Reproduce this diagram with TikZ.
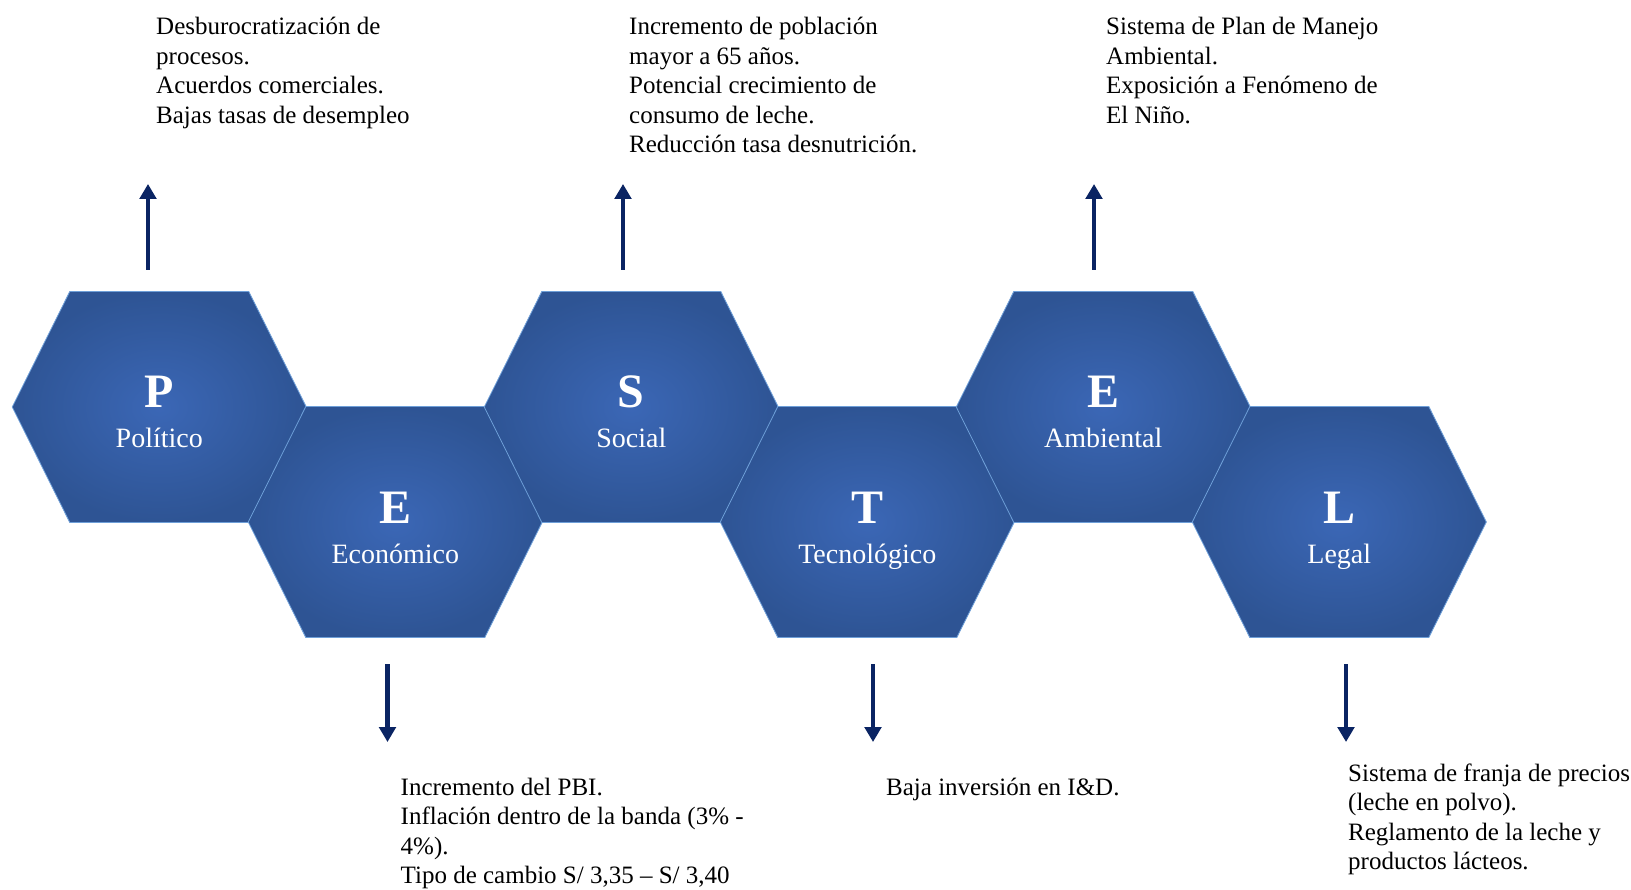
\documentclass[tikz,border=0pt]{standalone}
\usepackage{fontspec}
\setmainfont{Liberation Serif}
\usetikzlibrary{arrows.meta}
\definecolor{hexin}{HTML}{3B67B6}
\definecolor{hexout}{HTML}{2E5494}
\definecolor{hexline}{HTML}{6E9FD8}
\definecolor{navy}{HTML}{0A2463}
\newcommand\hexshape[2]{%
  \path[hexfill] (#1-147,#2) -- (#1-89.5,#2-115.5) -- (#1+89.5,#2-115.5) -- (#1+147,#2)
    -- (#1+89.5,#2+115.5) -- (#1-89.5,#2+115.5) -- cycle;}
\newcommand\txtblock[1]{\parbox[t]{400pt}{\raggedright\fontsize{25}{29.5}\selectfont #1}}
\tikzset{
  hexfill/.style={inner color=hexin, outer color=hexout, draw=hexline, line width=0.8pt},
  bigletter/.style={anchor=base, inner sep=0, text=white, font=\fontsize{48}{48}\selectfont\bfseries},
  hexlabel/.style={anchor=base, inner sep=0, text=white, font=\fontsize{28}{28}\selectfont},
  infotext/.style={anchor=base west, inner sep=0, text=black},
  factorarrow/.style={draw=navy, line width=4.6pt, -{Triangle[width=16.5pt,length=15pt]}}
}
\begin{document}
\begin{tikzpicture}[x=1pt,y=-1pt]
\useasboundingbox (0,0) rectangle (1631,890);
\fill[white] (0,0) rectangle (1631,890);
% hexagons
\hexshape{159.3}{407}
\hexshape{395.3}{522}
\hexshape{631.3}{407}
\hexshape{867.3}{522}
\hexshape{1103.3}{407}
\hexshape{1339.3}{522}
% centres
\coordinate (hP) at (159.3,407);
\coordinate (hE) at (395.3,522);
\coordinate (hS) at (631.3,407);
\coordinate (hT) at (867.3,522);
\coordinate (hA) at (1103.3,407);
\coordinate (hL) at (1339.3,522);
% letters
\node[bigletter] (lP) at ([yshift=-1pt]hP) {P};
\node[hexlabel] (nP) at ([yshift=-41pt]hP) {Político};
\node[bigletter] (lE) at ([yshift=-1pt]hE) {E};
\node[hexlabel] (nE) at ([yshift=-41pt]hE) {Económico};
\node[bigletter] (lS) at ([yshift=-1pt]hS) {S};
\node[hexlabel] (nS) at ([yshift=-41pt]hS) {Social};
\node[bigletter] (lT) at ([yshift=-1pt]hT) {T};
\node[hexlabel] (nT) at ([yshift=-41pt]hT) {Tecnológico};
\node[bigletter] (lA) at ([yshift=-1pt]hA) {E};
\node[hexlabel] (nA) at ([yshift=-41pt]hA) {Ambiental};
\node[bigletter] (lL) at ([yshift=-1pt]hL) {L};
\node[hexlabel] (nL) at ([yshift=-41pt]hL) {Legal};
% arrows
\coordinate (aP0) at (148,270); \coordinate (aP1) at (148,184);
\coordinate (aS0) at (623,270); \coordinate (aS1) at (623,184);
\coordinate (aA0) at (1094,270); \coordinate (aA1) at (1094,184);
\coordinate (aE0) at (387.5,664); \coordinate (aE1) at (387.5,742);
\coordinate (aT0) at (873,664); \coordinate (aT1) at (873,742);
\coordinate (aL0) at (1346,664); \coordinate (aL1) at (1346,742);
\draw[factorarrow] (aP0) -- (aP1);
\draw[factorarrow] (aS0) -- (aS1);
\draw[factorarrow] (aA0) -- (aA1);
\draw[factorarrow] (aE0) -- (aE1);
\draw[factorarrow] (aT0) -- (aT1);
\draw[factorarrow] (aL0) -- (aL1);
% texts
\node[infotext] (tP) at (156,35) {\txtblock{Desburocratización de\\procesos.\\Acuerdos comerciales.\\Bajas tasas de desempleo}};
\node[infotext] (tS) at (629,35) {\txtblock{Incremento de población\\mayor a 65 años.\\Potencial crecimiento de\\consumo de leche.\\Reducción tasa desnutrición.}};
\node[infotext] (tA) at (1106,35) {\txtblock{Sistema de Plan de Manejo\\Ambiental.\\Exposición a Fenómeno de\\El Niño.}};
\node[infotext] (tE) at (400.5,795) {\txtblock{Incremento del PBI.\\Inflación dentro de la banda (3\% -\\4\%).\\Tipo de cambio S/ 3,35 – S/ 3,40}};
\node[infotext] (tT) at (886,795) {\txtblock{Baja inversión en I\&D.}};
\node[infotext] (tL) at (1348,781) {\txtblock{Sistema de franja de precios\\(leche en polvo).\\Reglamento de la leche y\\productos lácteos.}};
\end{tikzpicture}
\end{document}
